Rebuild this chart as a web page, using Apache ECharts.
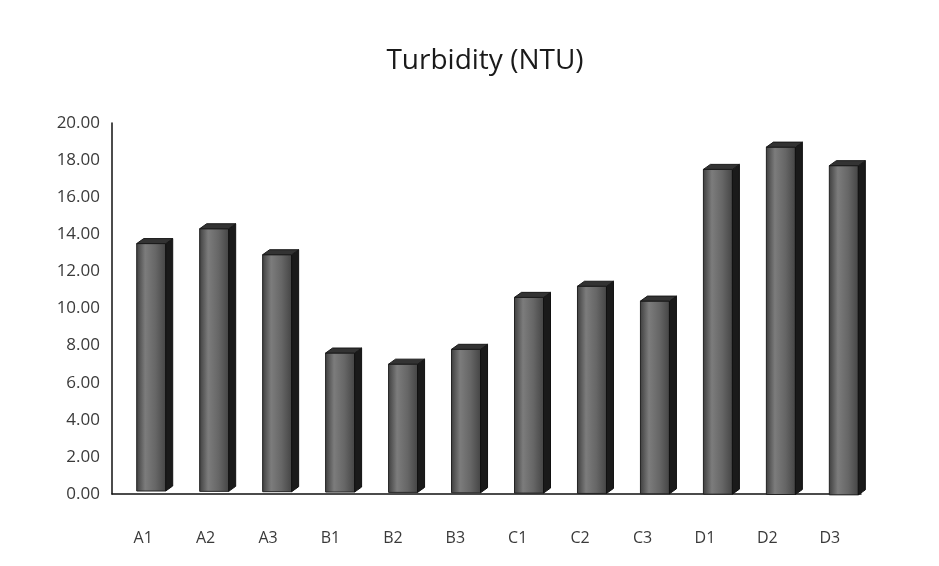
<!DOCTYPE html>
<html>
<head>
<meta charset="utf-8">
<script src="https://cdn.jsdelivr.net/npm/echarts@6/dist/echarts.min.js"></script>
<style>
  html, body { margin: 0; padding: 0; background: #fff; }
  #chart { width: 939px; height: 566px; }
</style>
</head>
<body>
<div id="chart"></div>
<script>
// Sample sites and their measured turbidity
const sites = ['A1', 'A2', 'A3', 'B1', 'B2', 'B3', 'C1', 'C2', 'C3', 'D1', 'D2', 'D3'];
const turbidity = [13.5, 14.3, 12.9, 7.6, 7.0, 7.8, 10.6, 11.2, 10.4, 17.5, 18.7, 17.7];
const yTicks = { min: 0, max: 20, step: 2 };

const chart = echarts.init(document.getElementById('chart'));

// Draws one bar as a box: front face, dark right side, and a top cap
function renderBox(params, api) {
  const idx = api.value(0);
  const val = api.value(1);
  const top = api.coord([idx, val]);
  const base = api.coord([idx, 0]);
  const shift = 8 + idx * 0.55;      // slight perspective drift to the right
  const w = 29;                      // front face width
  const dx = 7, dy = 5;              // depth of the box
  const x0 = top[0] + shift - w / 2;
  const x1 = x0 + w;
  const yTop = top[1];
  const yBot = base[1] - 3 + idx * 0.35;
  return {
    type: 'group',
    children: [
      {
        type: 'rect',
        shape: { x: x0, y: yTop, width: w, height: yBot - yTop },
        style: {
          fill: new echarts.graphic.LinearGradient(0, 0, 1, 0, [
            { offset: 0, color: '#3e3e3e' },
            { offset: 0.3, color: '#7c7c7c' },
            { offset: 0.65, color: '#666666' },
            { offset: 1, color: '#444444' }
          ]),
          stroke: '#222',
          lineWidth: 1
        }
      },
      {
        type: 'polygon',
        shape: { points: [[x1, yTop], [x1 + dx, yTop - dy], [x1 + dx, yBot - dy], [x1, yBot]] },
        style: { fill: '#1a1a1a', stroke: '#111', lineWidth: 1 }
      },
      {
        type: 'polygon',
        shape: { points: [[x0, yTop], [x0 + dx, yTop - dy], [x1 + dx, yTop - dy], [x1, yTop]] },
        style: { fill: '#333333', stroke: '#1a1a1a', lineWidth: 1 }
      }
    ]
  };
}

chart.setOption({
  animation: false,
  backgroundColor: '#ffffff',
  title: {
    text: 'Turbidity (NTU)',
    left: 480,
    textAlign: 'center',
    top: 42,
    textStyle: {
      fontFamily: 'Open Sans',
      fontSize: 28,
      fontWeight: 'normal',
      color: '#1a1a1a'
    }
  },
  grid: { left: 112, right: 78, top: 123, bottom: 72 },
  xAxis: {
    type: 'category',
    data: sites,
    axisLine: { show: true, lineStyle: { color: '#111', width: 1.5 } },
    axisTick: { show: false },
    axisLabel: {
      margin: 36,
      fontFamily: 'Open Sans',
      fontSize: 16,
      color: '#3a3a3a'
    }
  },
  yAxis: {
    type: 'value',
    min: yTicks.min,
    max: yTicks.max,
    interval: yTicks.step,
    axisLine: { show: true, lineStyle: { color: '#111', width: 1.5 } },
    axisTick: { show: false },
    splitLine: { show: false },
    axisLabel: {
      margin: 12,
      fontFamily: 'Open Sans',
      fontSize: 17,
      color: '#3a3a3a',
      formatter: v => v.toFixed(2)
    }
  },
  series: [{
    type: 'custom',
    renderItem: renderBox,
    encode: { x: 0, y: 1 },
    data: turbidity.map((v, i) => [i, v])
  }]
});
</script>
</body>
</html>
